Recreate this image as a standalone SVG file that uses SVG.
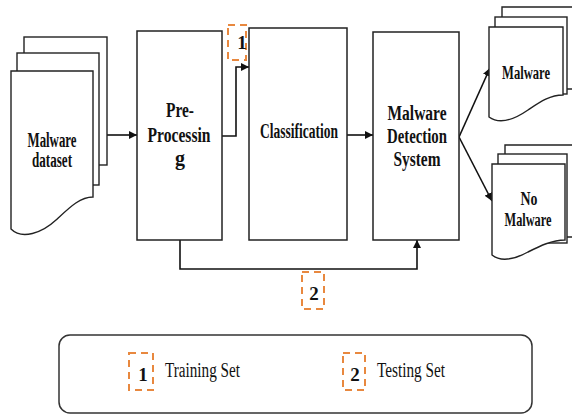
<svg xmlns="http://www.w3.org/2000/svg" width="572" height="415" viewBox="0 0 572 415">
<defs>
<style>
.pg{fill:#fff;stroke:#222;stroke-width:1.4}
.bx{fill:#fff;stroke:#222;stroke-width:1.5}
.ln{fill:none;stroke:#111;stroke-width:1.6}
.dash{fill:none;stroke:#E8883F;stroke-width:2;stroke-dasharray:7 5}
.t{font-family:"Liberation Serif","Times New Roman",serif;font-weight:bold;font-size:20px;fill:#111;text-anchor:middle}
.s{font-family:"Liberation Serif","Times New Roman",serif;font-weight:bold;font-size:18px;fill:#111;text-anchor:middle}
.n{font-family:"Liberation Serif","Times New Roman",serif;font-weight:bold;font-size:19px;fill:#111;text-anchor:middle}
.lg{font-family:"Liberation Serif","Times New Roman",serif;font-size:20px;fill:#111}
</style>
<marker id="ah" viewBox="0 0 10 10" refX="10" refY="5" markerWidth="8" markerHeight="8" markerUnits="userSpaceOnUse" orient="auto">
<path d="M0,0 L10,5 L0,10 Z" fill="#111"/>
</marker>
</defs>
<rect width="572" height="415" fill="#fff"/>

<g id="connectors">
<path class="ln" d="M107,135 H137" marker-end="url(#ah)"/>
<path class="ln" d="M222,136 H236 V67 H249" marker-end="url(#ah)"/>
<path class="ln" d="M347,135 H373" marker-end="url(#ah)"/>
<path class="ln" d="M459,137 L490,68" marker-end="url(#ah)"/>
<path class="ln" d="M459,137 L492,201" marker-end="url(#ah)"/>
<path class="ln" d="M180,240 V269 H417 V240" marker-end="url(#ah)"/>
</g>

<g id="malware-dataset">
<rect class="pg" x="24" y="37" width="83" height="128"/>
<rect class="pg" x="17" y="53" width="82" height="132"/>
<path class="pg" d="M11,71 H93 V197 C80,197 70,207 56,220 C42,233 22,240 11,229 Z"/>
<text class="t" x="52" y="147" textLength="49" lengthAdjust="spacingAndGlyphs">Malware</text>
<text class="t" x="52" y="167" textLength="40" lengthAdjust="spacingAndGlyphs">dataset</text>
</g>

<g id="pre-processing">
<rect class="bx" x="137" y="31" width="85" height="209"/>
<text class="t" x="180" y="117" textLength="28" lengthAdjust="spacingAndGlyphs">Pre-</text>
<text class="t" x="179" y="142" textLength="63" lengthAdjust="spacingAndGlyphs">Processin</text>
<text class="t" x="180" y="165">g</text>
</g>

<g id="classification">
<rect class="bx" x="249" y="28" width="98" height="212"/>
<text class="t" x="299" y="138" textLength="78" lengthAdjust="spacingAndGlyphs">Classification</text>
</g>

<g id="mds">
<rect class="bx" x="373" y="32" width="86" height="208"/>
<text class="t" x="417" y="120" textLength="59" lengthAdjust="spacingAndGlyphs">Malware</text>
<text class="t" x="417" y="143" textLength="60" lengthAdjust="spacingAndGlyphs">Detection</text>
<text class="t" x="417" y="166" textLength="47" lengthAdjust="spacingAndGlyphs">System</text>
</g>

<g id="out-malware">
<path class="pg" d="M572,7 H502 V89 H572"/>
<rect class="pg" x="495" y="17" width="72" height="77"/>
<path class="pg" d="M489,27 H563 V95 C550,95 540,102 528,110 C515,119 500,125 489,117 Z"/>
<text class="s" x="526" y="79" textLength="48" lengthAdjust="spacingAndGlyphs">Malware</text>
</g>

<g id="out-no-malware">
<path class="pg" d="M572,145 H505 V237 H572"/>
<rect class="pg" x="498" y="154" width="69" height="89"/>
<path class="pg" d="M492,164 H565 V240 C552,240 540,246 528,252 C515,259 502,263 492,255 Z"/>
<text class="s" x="529" y="205" textLength="17" lengthAdjust="spacingAndGlyphs">No</text>
<text class="s" x="528" y="226" textLength="47" lengthAdjust="spacingAndGlyphs">Malware</text>
</g>

<g id="tag-1">
<rect class="dash" x="228" y="25" width="18" height="35"/>
<text class="n" x="242" y="49">1</text>
</g>

<g id="tag-2">
<rect class="dash" x="302" y="272" width="22" height="37"/>
<text class="n" x="314" y="300">2</text>
</g>

<g id="legend">
<rect x="59" y="335" width="473" height="78" rx="11" fill="#fff" stroke="#333" stroke-width="1.5"/>
<rect class="dash" x="129" y="353" width="24" height="37"/>
<text class="n" x="143" y="381">1</text>
<text class="lg" x="165" y="377" textLength="75" lengthAdjust="spacingAndGlyphs">Training Set</text>
<rect class="dash" x="343" y="353" width="22" height="37"/>
<text class="n" x="355" y="381">2</text>
<text class="lg" x="377" y="377" textLength="68" lengthAdjust="spacingAndGlyphs">Testing Set</text>
</g>
</svg>
